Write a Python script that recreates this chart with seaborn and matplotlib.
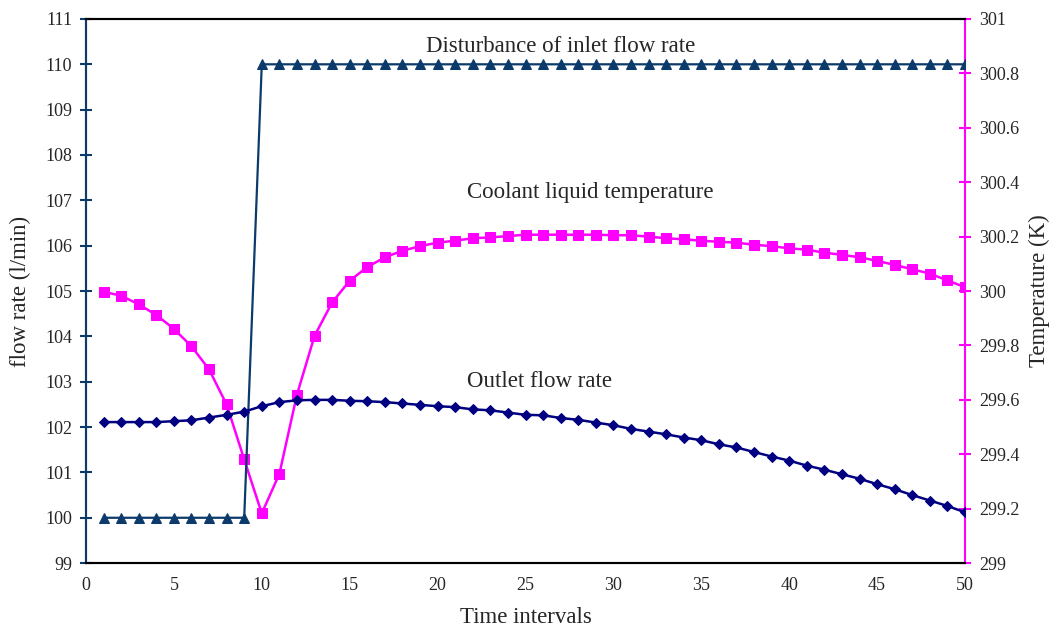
import numpy as np
import pandas as pd
import matplotlib
matplotlib.use("Agg")
import matplotlib.pyplot as plt
import seaborn as sns

sns.set_style("white")
plt.rcParams['font.family'] = ['Liberation Serif', 'DejaVu Serif']

time = list(range(1, 51))

disturbance = [100.0] * 9 + [110.0] * 41

outlet_flow = [102.11, 102.11, 102.11, 102.11, 102.13, 102.15, 102.21, 102.27, 102.34, 102.46,
               102.55, 102.59, 102.60, 102.60, 102.58, 102.57, 102.55, 102.52, 102.49, 102.46,
               102.44, 102.39, 102.37, 102.32, 102.27, 102.26, 102.20, 102.16, 102.10, 102.04,
               101.96, 101.90, 101.84, 101.77, 101.71, 101.62, 101.55, 101.45, 101.35, 101.26,
               101.15, 101.06, 100.96, 100.86, 100.74, 100.63, 100.50, 100.38, 100.26, 100.12]

coolant_temp = [299.997, 299.983, 299.951, 299.912, 299.861, 299.797, 299.712, 299.583, 299.381, 299.183,
                299.328, 299.619, 299.835, 299.958, 300.038, 300.088, 300.124, 300.148, 300.165, 300.178,
                300.185, 300.194, 300.197, 300.202, 300.207, 300.207, 300.207, 300.207, 300.207, 300.205,
                300.205, 300.200, 300.194, 300.190, 300.185, 300.181, 300.178, 300.170, 300.165, 300.157,
                300.152, 300.141, 300.133, 300.124, 300.111, 300.096, 300.080, 300.064, 300.039, 300.014]

df = pd.DataFrame({"t": time, "dist": disturbance, "outlet": outlet_flow, "temp": coolant_temp})

c_dist = "#0B3A6B"
c_out = "#000080"
c_temp = "#FF00FF"

fig = plt.figure(figsize=(10.51, 6.32), dpi=100)
ax = fig.add_axes([0.0818, 0.109, 0.8364, 0.861])
ax2 = ax.twinx()

sns.lineplot(data=df, x="t", y="dist", ax=ax, color=c_dist, marker="^", markersize=7,
             markeredgecolor=c_dist, linewidth=1.6)
sns.lineplot(data=df, x="t", y="outlet", ax=ax, color=c_out, marker="D", markersize=5,
             markeredgecolor=c_out, linewidth=1.8)
sns.lineplot(data=df, x="t", y="temp", ax=ax2, color=c_temp, marker="s", markersize=7,
             markeredgecolor=c_temp, linewidth=1.8)

ax.set_xlim(0, 50)
ax.set_ylim(99, 111)
ax2.set_ylim(299, 301)
ax.set_xticks(range(0, 51, 5))
ax.set_yticks(range(99, 112))
ax2.set_yticks(np.round(np.arange(299, 301.01, 0.2), 1))
ax2.set_yticklabels(["299", "299.2", "299.4", "299.6", "299.8", "300",
                     "300.2", "300.4", "300.6", "300.8", "301"])

ax.set_xlabel("Time intervals", fontsize=16.5, labelpad=9)
ax.set_ylabel("flow rate (l/min)", fontsize=16.5, labelpad=10)
ax2.set_ylabel("Temperature (K)", fontsize=16.5, labelpad=7)

for a in (ax, ax2):
    for s in a.spines.values():
        s.set_linewidth(1.5)
ax.spines["top"].set_color("black")
ax.spines["bottom"].set_color("black")
ax.spines["left"].set_color(c_dist)
ax2.spines["left"].set_color(c_dist)
ax2.spines["right"].set_color(c_temp)
ax.spines["right"].set_visible(False)
ax2.spines["top"].set_color("black")
ax2.spines["bottom"].set_color("black")

ax.tick_params(axis="x", direction="inout", length=8, width=1.5, color="black", labelsize=13, pad=6)
ax.tick_params(axis="y", direction="inout", length=8, width=1.5, color=c_dist, labelsize=13, pad=6)
ax2.tick_params(axis="y", direction="inout", length=8, width=1.5, color=c_temp, labelsize=13, pad=6)

ax.text(27.0, 110.40, "Disturbance of inlet flow rate", fontsize=16.5, ha="center", va="center")
ax2.text(28.7, 300.364, "Coolant liquid temperature", fontsize=16.5, ha="center", va="center")
ax.text(25.8, 103.01, "Outlet flow rate", fontsize=16.5, ha="center", va="center")

ax.set_zorder(2)
ax2.set_zorder(1)
ax.patch.set_visible(False)

fig.savefig("out.png", dpi=100)
